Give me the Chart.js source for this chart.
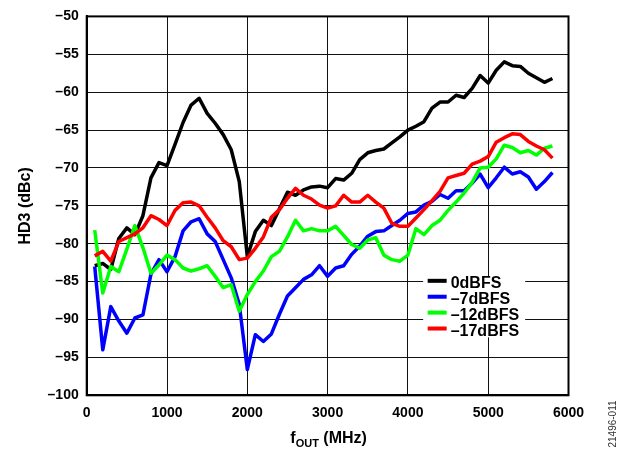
<!DOCTYPE html>
<html>
<head>
<meta charset="utf-8">
<script src="https://cdn.jsdelivr.net/npm/chart.js@4.4.1/dist/chart.umd.min.js"></script>
<style>
  html, body { margin: 0; padding: 0; background: #fff; }
  #wrap { width: 626px; height: 450px; position: relative; }
</style>
</head>
<body>
<div id="wrap"><canvas id="hd3"></canvas></div>
<script>
// output frequency, MHz
const freqMHz = [
  100, 200, 300, 400, 500, 600, 700, 800, 900, 1000,
  1100, 1200, 1300, 1400, 1500, 1600, 1700, 1800, 1900, 2000,
  2100, 2200, 2300, 2400, 2500, 2600, 2700, 2800, 2900, 3000,
  3100, 3200, 3300, 3400, 3500, 3600, 3700, 3800, 3900, 4000,
  4100, 4200, 4300, 4400, 4500, 4600, 4700, 4800, 4900, 5000,
  5100, 5200, 5300, 5400, 5500, 5600, 5700, 5800
];

// HD3 in dBc for each output level
const hd3_0dBFS = [
  -82.9, -82.6, -83.4, -79.3, -77.9, -78.8, -76.3, -71.3, -69.3, -69.7,
  -66.9, -64.0, -61.7, -60.8, -62.8, -64.1, -65.6, -67.6, -71.8, -81.7,
  -78.4, -76.9, -77.6, -75.4, -73.2, -73.6, -72.9, -72.5, -72.4, -72.6,
  -71.4, -71.6, -70.7, -68.9, -68.0, -67.7, -67.5, -66.7, -65.9, -65.0,
  -64.5, -63.9, -62.1, -61.3, -61.3, -60.4, -60.7, -59.5, -57.8, -58.8,
  -57.1, -56.0, -56.5, -56.6, -57.5, -58.1, -58.7, -58.2
];
const hd3_m7dBFS = [
  -83.0, -94.0, -88.3, -90.2, -91.8, -89.8, -89.4, -84.0, -82.1, -83.7,
  -81.7, -78.3, -77.1, -76.7, -78.7, -79.7, -82.1, -84.5, -88.0, -96.6,
  -92.0, -92.9, -91.9, -89.3, -86.9, -85.8, -84.7, -84.1, -82.9, -84.3,
  -83.2, -82.9, -81.4, -80.3, -79.0, -78.4, -78.3, -77.6, -76.9, -76.0,
  -75.8, -74.9, -74.4, -73.5, -74.0, -73.0, -73.0, -72.0, -70.8, -72.6,
  -71.3, -69.9, -70.8, -70.5, -71.2, -72.8, -71.8, -70.6
];
const hd3_m12dBFS = [
  -78.2, -86.5, -83.0, -83.7, -80.7, -77.6, -80.5, -83.9, -82.8, -81.5,
  -82.1, -83.2, -83.6, -83.3, -82.9, -84.3, -85.8, -85.4, -88.9, -86.7,
  -85.0, -83.6, -81.7, -81.0, -79.1, -76.9, -78.3, -78.0, -78.3, -78.3,
  -77.7, -78.9, -80.1, -80.6, -79.5, -79.2, -81.5, -82.1, -82.3, -81.5,
  -78.0, -78.8, -77.6, -76.9, -75.6, -74.5, -73.3, -71.9, -70.0, -69.9,
  -68.8, -67.0, -67.3, -68.0, -67.7, -68.3, -67.4, -67.1
];
const hd3_m17dBFS = [
  -81.6, -81.0, -82.3, -79.7, -79.2, -78.7, -77.9, -76.3, -76.8, -77.6,
  -75.6, -74.6, -74.5, -75.0, -76.5, -77.9, -79.6, -80.4, -82.1, -81.9,
  -80.6, -79.1, -76.5, -75.5, -74.0, -72.7, -73.6, -74.1, -74.9, -75.3,
  -75.0, -73.6, -74.5, -74.5, -73.6, -74.5, -75.3, -77.3, -77.7, -77.7,
  -76.6, -75.5, -74.3, -73.1, -71.3, -71.0, -70.7, -69.5, -69.1, -68.5,
  -66.6, -66.0, -65.5, -65.6, -66.5, -67.1, -67.6, -68.7
];

const seriesNames = ['0dBFS', '\u20137dBFS', '\u201312dBFS', '\u201317dBFS'];
const seriesValues = [hd3_0dBFS, hd3_m7dBFS, hd3_m12dBFS, hd3_m17dBFS];
const seriesColors = ['#000000', '#0000ff', '#00ff00', '#ff0000'];

const xTicks = [0, 1000, 2000, 3000, 4000, 5000, 6000];
const yTicks = [-100, -95, -90, -85, -80, -75, -70, -65, -60, -55, -50];

const FONT = '"Liberation Sans", Arial, Helvetica, sans-serif';

const datasets = seriesValues.map((vals, i) => ({
  label: seriesNames[i],
  data: freqMHz.map((f, k) => ({ x: f, y: vals[k] })),
  borderColor: seriesColors[i],
  backgroundColor: seriesColors[i],
  borderWidth: 3.5,
  borderJoinStyle: 'round',
  pointRadius: 0,
  tension: 0,
  order: seriesValues.length - i   // red ends up on top
}));

// frame, in-plot legend, axis titles and the figure number
const decorations = {
  id: 'decorations',
  afterDatasetsDraw(chart) {
    const { ctx, chartArea: a, scales: { x, y } } = chart;
    ctx.save();
    ctx.strokeStyle = '#000';
    ctx.lineWidth = 2;
    ctx.strokeRect(a.left, a.top, a.right - a.left, a.bottom - a.top);

    const lx = x.getPixelForValue(4190);
    const ly = y.getPixelForValue(-84.3);
    ctx.fillStyle = '#fff';
    ctx.fillRect(lx, ly, 102, 61);
    ctx.font = 'bold 16px ' + FONT;
    ctx.textBaseline = 'alphabetic';
    ctx.textAlign = 'left';
    seriesNames.forEach((name, i) => {
      const cy = ly + 4.5 + i * 15.9;
      ctx.strokeStyle = seriesColors[i];
      ctx.lineWidth = 4;
      ctx.beginPath();
      ctx.moveTo(lx + 4.5, cy);
      ctx.lineTo(lx + 23.5, cy);
      ctx.stroke();
      ctx.fillStyle = '#000';
      ctx.fillText(name, lx + 27.5, cy + 7.3);
    });
    ctx.restore();
  },
  afterDraw(chart) {
    const { ctx, chartArea: a } = chart;
    ctx.save();
    ctx.fillStyle = '#000';

    // x title: f with OUT subscript
    const main = 'bold 16px ' + FONT;
    const sub = 'bold 11px ' + FONT;
    ctx.font = main;
    const wF = ctx.measureText('f').width;
    const wRest = ctx.measureText(' (MHz)').width;
    ctx.font = sub;
    const wSub = ctx.measureText('OUT').width;
    let tx = (a.left + a.right) / 2 - (wF + wSub + wRest) / 2 + 1;
    const base = 443;
    ctx.textBaseline = 'alphabetic';
    ctx.textAlign = 'left';
    ctx.font = main;
    ctx.fillText('f', tx, base);
    tx += wF;
    ctx.font = sub;
    ctx.fillText('OUT', tx, base + 4);
    tx += wSub;
    ctx.font = main;
    ctx.fillText(' (MHz)', tx, base);

    // y title
    ctx.save();
    ctx.translate(30, (a.top + a.bottom) / 2);
    ctx.rotate(-Math.PI / 2);
    ctx.textAlign = 'center';
    ctx.font = main;
    ctx.fillText('HD3 (dBc)', 0, 0);
    ctx.restore();

    // figure number
    ctx.save();
    ctx.translate(616, 424);
    ctx.rotate(-Math.PI / 2);
    ctx.textAlign = 'center';
    ctx.font = '10px ' + FONT;
    ctx.fillStyle = '#333';
    ctx.fillText('21496-011', 0, 0);
    ctx.restore();

    ctx.restore();
  }
};

new Chart(document.getElementById('hd3'), {
  type: 'line',
  data: { datasets },
  options: {
    responsive: true,
    maintainAspectRatio: false,
    animation: false,
    devicePixelRatio: 1,
    layout: { padding: { left: 0, top: 12, right: 57.5, bottom: 0 } },
    plugins: {
      legend: { display: false },
      tooltip: { enabled: false }
    },
    scales: {
      x: {
        type: 'linear',
        min: 0,
        max: 6000,
        afterBuildTicks: s => { s.ticks = xTicks.map(v => ({ value: v })); },
        afterFit: s => { s.height = 54.7; },
        grid: { color: '#111', lineWidth: 1, drawTicks: false },
        border: { color: '#000', width: 2 },
        ticks: {
          padding: 9,
          color: '#000',
          font: { family: FONT, size: 14, weight: 'bold' },
          maxRotation: 0,
          callback: v => String(v)
        }
      },
      y: {
        type: 'linear',
        min: -100,
        max: -50,
        afterBuildTicks: s => { s.ticks = yTicks.map(v => ({ value: v })); },
        afterFit: s => { s.width = 86.7; },
        grid: { color: '#111', lineWidth: 1, drawTicks: false },
        border: { color: '#000', width: 2 },
        ticks: {
          padding: 8,
          color: '#000',
          font: { family: FONT, size: 14, weight: 'bold' },
          callback: v => String(v).replace('-', '\u2013')
        }
      }
    }
  },
  plugins: [decorations]
});
</script>
</body>
</html>
